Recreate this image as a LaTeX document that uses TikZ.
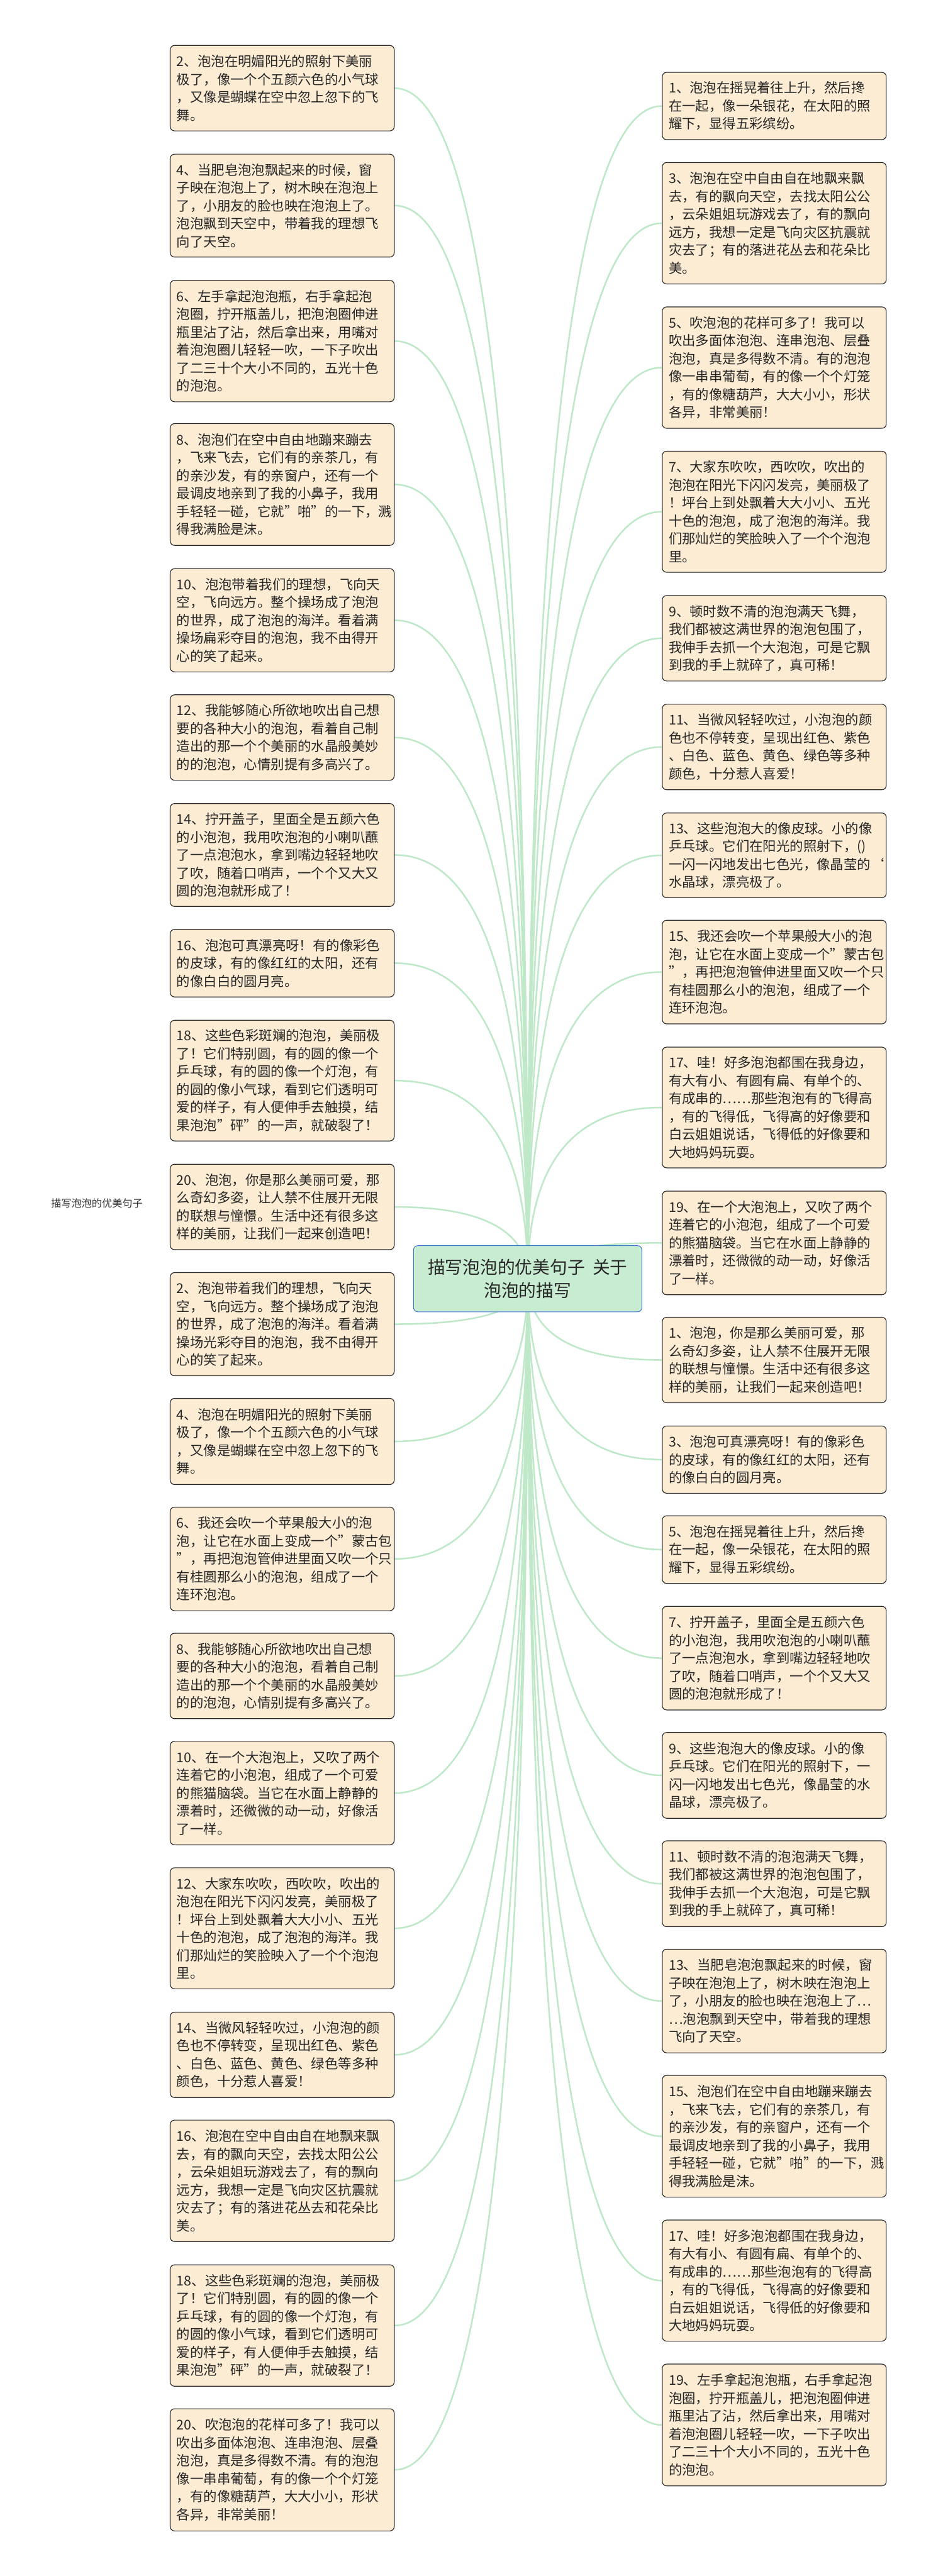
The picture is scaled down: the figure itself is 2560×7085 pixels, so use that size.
\documentclass[tikz,border=0pt]{standalone}
\usepackage{fontspec}
\setmainfont{Noto Sans CJK SC}
\usetikzlibrary{backgrounds,calc}
\definecolor{cardfill}{RGB}{253,236,212}
\definecolor{cardline}{RGB}{40,40,40}
\definecolor{conncol}{RGB}{190,232,200}
\definecolor{rootfill}{RGB}{200,236,210}
\definecolor{rootline}{RGB}{60,120,215}
\newcommand\card[5]{\node[card, minimum height={(#4-#3)*0.5pt}] (#1) at (#2,#3) {#5};}
\newcommand\linkto[2]{\draw[conn] (root.center) .. controls ($(root.center)!0.6667!(root.center |- #1.#2)$) and ($(#1.#2)!0.6667!(root.center |- #1.#2)$) .. (#1.#2);}
\begin{document}
\begin{tikzpicture}[x=0.5pt,y=-0.5pt,
  card/.style={draw=cardline, line width=1pt, fill=cardfill, rounded corners=6pt, anchor=north west,
    text width=290pt, inner xsep=9pt, inner ysep=0pt, align=left,
    font=\fontsize{18.5pt}{24.65pt}\selectfont, text=black!85},
  conn/.style={draw=conncol, line width=2.2pt},
  rootbox/.style={draw=rootline, line width=0.9pt, fill=rootfill, rounded corners=6pt,
    minimum width=314pt, minimum height=91pt, inner sep=0pt, align=center,
    font=\fontsize{24pt}{32.5pt}\selectfont, text=black!85}]
\useasboundingbox (0,0) rectangle (2560,7085);

\node[rootbox] (root) at (1451,3517) {描写泡泡的优美句子\ \ 关于\\泡泡的描写};
\node[font=\fontsize{14pt}{16pt}\selectfont, text=black!80, anchor=west, inner sep=0pt] (label) at (140,3310) {描写泡泡的优美句子};

% left column
\card{L1}{467}{124}{359}{2、泡泡在明媚阳光的照射下美丽\\极了，像一个个五颜六色的小气球\\，又像是蝴蝶在空中忽上忽下的飞\\舞。}
\card{L2}{467}{423}{706}{4、当肥皂泡泡飘起来的时候，窗\\子映在泡泡上了，树木映在泡泡上\\了，小朋友的脸也映在泡泡上了。\\泡泡飘到天空中，带着我的理想飞\\向了天空。}
\card{L3}{467}{770}{1104}{6、左手拿起泡泡瓶，右手拿起泡\\泡圈，拧开瓶盖儿，把泡泡圈伸进\\瓶里沾了沾，然后拿出来，用嘴对\\着泡泡圈儿轻轻一吹，一下子吹出\\了二三十个大小不同的，五光十色\\的泡泡。}
\card{L4}{467}{1164}{1499}{8、泡泡们在空中自由地蹦来蹦去\\，飞来飞去，它们有的亲茶几，有\\的亲沙发，有的亲窗户，还有一个\\最调皮地亲到了我的小鼻子，我用\\手轻轻一碰，它就"啪"的一下，溅\\得我满脸是沫。}
\card{L5}{467}{1563}{1847}{10、泡泡带着我们的理想，飞向天\\空，飞向远方。整个操场成了泡泡\\的世界，成了泡泡的海洋。看着满\\操场扁彩夺目的泡泡，我不由得开\\心的笑了起来。}
\card{L6}{467}{1910}{2145}{12、我能够随心所欲地吹出自己想\\要的各种大小的泡泡，看着自己制\\造出的那一个个美丽的水晶般美妙\\的的泡泡，心情别提有多高兴了。}
\card{L7}{467}{2209}{2492}{14、拧开盖子，里面全是五颜六色\\的小泡泡，我用吹泡泡的小喇叭蘸\\了一点泡泡水，拿到嘴边轻轻地吹\\了吹，随着口哨声，一个个又大又\\圆的泡泡就形成了！}
\card{L8}{467}{2555}{2741}{16、泡泡可真漂亮呀！有的像彩色\\的皮球，有的像红红的太阳，还有\\的像白白的圆月亮。}
\card{L9}{467}{2805}{3137}{18、这些色彩斑斓的泡泡，美丽极\\了！它们特别圆，有的圆的像一个\\乒乓球，有的圆的像一个灯泡，有\\的圆的像小气球，看到它们透明可\\爱的样子，有人便伸手去触摸，结\\果泡泡"砰"的一声，就破裂了！}
\card{L10}{467}{3201}{3436}{20、泡泡，你是那么美丽可爱，那\\么奇幻多姿，让人禁不住展开无限\\的联想与憧憬。生活中还有很多这\\样的美丽，让我们一起来创造吧！}
\card{L11}{467}{3499}{3783}{2、泡泡带着我们的理想，飞向天\\空，飞向远方。整个操场成了泡泡\\的世界，成了泡泡的海洋。看着满\\操场光彩夺目的泡泡，我不由得开\\心的笑了起来。}
\card{L12}{467}{3845}{4082}{4、泡泡在明媚阳光的照射下美丽\\极了，像一个个五颜六色的小气球\\，又像是蝴蝶在空中忽上忽下的飞\\舞。}
\card{L13}{467}{4144}{4429}{6、我还会吹一个苹果般大小的泡\\泡，让它在水面上变成一个"蒙古包\\"，再把泡泡管伸进里面又吹一个只\\有桂圆那么小的泡泡，组成了一个\\连环泡泡。}
\card{L14}{467}{4491}{4726}{8、我能够随心所欲地吹出自己想\\要的各种大小的泡泡，看着自己制\\造出的那一个个美丽的水晶般美妙\\的的泡泡，心情别提有多高兴了。}
\card{L15}{467}{4788}{5073}{10、在一个大泡泡上，又吹了两个\\连着它的小泡泡，组成了一个可爱\\的熊猫脑袋。当它在水面上静静的\\漂着时，还微微的动一动，好像活\\了一样。}
\card{L16}{467}{5136}{5469}{12、大家东吹吹，西吹吹，吹出的\\泡泡在阳光下闪闪发亮，美丽极了\\！坪台上到处飘着大大小小、五光\\十色的泡泡，成了泡泡的海洋。我\\们那灿烂的笑脸映入了一个个泡泡\\里。}
\card{L17}{467}{5533}{5768}{14、当微风轻轻吹过，小泡泡的颜\\色也不停转变，呈现出红色、紫色\\、白色、蓝色、黄色、绿色等多种\\颜色，十分惹人喜爱！}
\card{L18}{467}{5830}{6164}{16、泡泡在空中自由自在地飘来飘\\去，有的飘向天空，去找太阳公公\\，云朵姐姐玩游戏去了，有的飘向\\远方，我想一定是飞向灾区抗震就\\灾去了；有的落进花丛去和花朵比\\美。}
\card{L19}{467}{6228}{6562}{18、这些色彩斑斓的泡泡，美丽极\\了！它们特别圆，有的圆的像一个\\乒乓球，有的圆的像一个灯泡，有\\的圆的像小气球，看到它们透明可\\爱的样子，有人便伸手去触摸，结\\果泡泡"砰"的一声，就破裂了！}
\card{L20}{467}{6624}{6960}{20、吹泡泡的花样可多了！我可以\\吹出多面体泡泡、连串泡泡、层叠\\泡泡，真是多得数不清。有的泡泡\\像一串串葡萄，有的像一个个灯笼\\，有的像糖葫芦，大大小小，形状\\各异，非常美丽！}

% right column
\card{R1}{1820}{198}{383}{1、泡泡在摇晃着往上升，然后搀\\在一起，像一朵银花，在太阳的照\\耀下，显得五彩缤纷。}
\card{R2}{1820}{446}{780}{3、泡泡在空中自由自在地飘来飘\\去，有的飘向天空，去找太阳公公\\，云朵姐姐玩游戏去了，有的飘向\\远方，我想一定是飞向灾区抗震就\\灾去了；有的落进花丛去和花朵比\\美。}
\card{R3}{1820}{843}{1177}{5、吹泡泡的花样可多了！我可以\\吹出多面体泡泡、连串泡泡、层叠\\泡泡，真是多得数不清。有的泡泡\\像一串串葡萄，有的像一个个灯笼\\，有的像糖葫芦，大大小小，形状\\各异，非常美丽！}
\card{R4}{1820}{1240}{1573}{7、大家东吹吹，西吹吹，吹出的\\泡泡在阳光下闪闪发亮，美丽极了\\！坪台上到处飘着大大小小、五光\\十色的泡泡，成了泡泡的海洋。我\\们那灿烂的笑脸映入了一个个泡泡\\里。}
\card{R5}{1820}{1637}{1872}{9、顿时数不清的泡泡满天飞舞，\\我们都被这满世界的泡泡包围了，\\我伸手去抓一个大泡泡，可是它飘\\到我的手上就碎了，真可稀！}
\card{R6}{1820}{1936}{2171}{11、当微风轻轻吹过，小泡泡的颜\\色也不停转变，呈现出红色、紫色\\、白色、蓝色、黄色、绿色等多种\\颜色，十分惹人喜爱！}
\card{R7}{1820}{2235}{2468}{13、这些泡泡大的像皮球。小的像\\乒乓球。它们在阳光的照射下，()\\一闪一闪地发出七色光，像晶莹的{\char"60}\\水晶球，漂亮极了。}
\card{R8}{1820}{2530}{2815}{15、我还会吹一个苹果般大小的泡\\泡，让它在水面上变成一个"蒙古包\\"，再把泡泡管伸进里面又吹一个只\\有桂圆那么小的泡泡，组成了一个\\连环泡泡。}
\card{R9}{1820}{2879}{3211}{17、哇！好多泡泡都围在我身边，\\有大有小、有圆有扁、有单个的、\\有成串的……那些泡泡有的飞得高\\，有的飞得低，飞得高的好像要和\\白云姐姐说话，飞得低的好像要和\\大地妈妈玩耍。}
\card{R10}{1820}{3275}{3560}{19、在一个大泡泡上，又吹了两个\\连着它的小泡泡，组成了一个可爱\\的熊猫脑袋。当它在水面上静静的\\漂着时，还微微的动一动，好像活\\了一样。}
\card{R11}{1820}{3622}{3857}{1、泡泡，你是那么美丽可爱，那\\么奇幻多姿，让人禁不住展开无限\\的联想与憧憬。生活中还有很多这\\样的美丽，让我们一起来创造吧！}
\card{R12}{1820}{3921}{4106}{3、泡泡可真漂亮呀！有的像彩色\\的皮球，有的像红红的太阳，还有\\的像白白的圆月亮。}
\card{R13}{1820}{4168}{4354}{5、泡泡在摇晃着往上升，然后搀\\在一起，像一朵银花，在太阳的照\\耀下，显得五彩缤纷。}
\card{R14}{1820}{4417}{4702}{7、拧开盖子，里面全是五颜六色\\的小泡泡，我用吹泡泡的小喇叭蘸\\了一点泡泡水，拿到嘴边轻轻地吹\\了吹，随着口哨声，一个个又大又\\圆的泡泡就形成了！}
\card{R15}{1820}{4764}{5000}{9、这些泡泡大的像皮球。小的像\\乒乓球。它们在阳光的照射下，一\\闪一闪地发出七色光，像晶莹的水\\晶球，漂亮极了。}
\card{R16}{1820}{5062}{5298}{11、顿时数不清的泡泡满天飞舞，\\我们都被这满世界的泡泡包围了，\\我伸手去抓一个大泡泡，可是它飘\\到我的手上就碎了，真可稀！}
\card{R17}{1820}{5360}{5645}{13、当肥皂泡泡飘起来的时候，窗\\子映在泡泡上了，树木映在泡泡上\\了，小朋友的脸也映在泡泡上了…\\…泡泡飘到天空中，带着我的理想\\飞向了天空。}
\card{R18}{1820}{5707}{6042}{15、泡泡们在空中自由地蹦来蹦去\\，飞来飞去，它们有的亲茶几，有\\的亲沙发，有的亲窗户，还有一个\\最调皮地亲到了我的小鼻子，我用\\手轻轻一碰，它就"啪"的一下，溅\\得我满脸是沫。}
\card{R19}{1820}{6105}{6438}{17、哇！好多泡泡都围在我身边，\\有大有小、有圆有扁、有单个的、\\有成串的……那些泡泡有的飞得高\\，有的飞得低，飞得高的好像要和\\白云姐姐说话，飞得低的好像要和\\大地妈妈玩耍。}
\card{R20}{1820}{6501}{6836}{19、左手拿起泡泡瓶，右手拿起泡\\泡圈，拧开瓶盖儿，把泡泡圈伸进\\瓶里沾了沾，然后拿出来，用嘴对\\着泡泡圈儿轻轻一吹，一下子吹出\\了二三十个大小不同的，五光十色\\的泡泡。}

\begin{scope}[on background layer]
\fill[white] (0,0) rectangle (2560,7085);
\foreach \n in {1,...,20}{
  \linkto{L\n}{east}
  \linkto{R\n}{west}
}
\end{scope}
\end{tikzpicture}
\end{document}
